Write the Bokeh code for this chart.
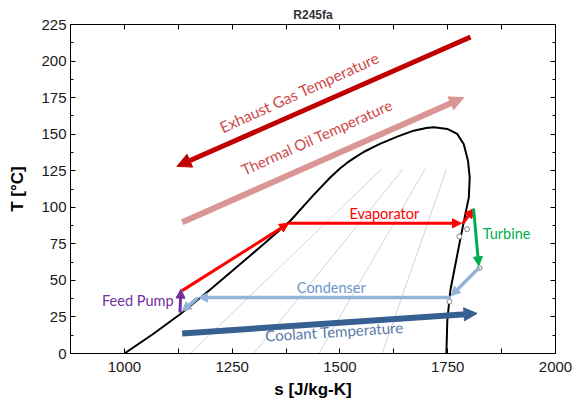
from bokeh.plotting import figure
from bokeh.models import (ColumnDataSource, Arrow, NormalHead, LinearAxis,
                          FixedTicker, Range1d)
from bokeh.core.properties import value
from bokeh.embed import file_html
from bokeh.resources import INLINE

# ---------------- data ----------------
chart_title = "R245fa"
x_label = "s [J/kg-K]"
y_label = "T [°C]"

x_ticks = [1000, 1250, 1500, 1750, 2000]
x_minor = [875, 1125, 1375, 1625, 1875]
y_ticks = [0, 25, 50, 75, 100, 125, 150, 175, 200, 225]
y_minor = [12.5, 37.5, 62.5, 87.5, 112.5, 137.5, 162.5, 187.5, 212.5]

# saturation dome (liquid side -> critical point -> vapour side)
dome_s = [1000, 1065, 1130, 1200, 1260, 1320, 1385, 1439, 1478, 1500, 1517, 1536, 1555,
          1575, 1594, 1633, 1671, 1700, 1718, 1749, 1772, 1787, 1797, 1801, 1799, 1791,
          1780, 1768, 1756, 1749, 1747]
dome_T = [0, 13, 27, 44, 59, 74, 90.8, 108.5, 120.5, 126.5, 130.5, 134.3, 137.8,
          140.8, 143.5, 148.3, 152.4, 154.2, 154.7, 153.6, 150.2, 143.3, 131.9, 120.5, 106.8, 95.4,
          79.4, 61.2, 42.9, 22.4, 0]

# constant-quality lines inside the dome
qual_s_bottom = [1153, 1300, 1451, 1598]
qual_T_bottom = [0, 0, 0, 0]
qual_s_top = [1596, 1646, 1697, 1747]
qual_T_top = [126, 126, 126, 126]

# ORC cycle segments
pump_s0, pump_T0, pump_s1, pump_T1 = [1129], [28], [1131], [44]
evap_s0 = [1134, 1381, 1785]
evap_T0 = [43, 89, 89]
evap_s1 = [1381, 1782, 1810]
evap_T1 = [89, 89, 99]
turb_s0, turb_T0, turb_s1, turb_T1 = [1810], [99], [1822], [60]
cond_s0 = [1824, 1757, 1170]
cond_T0 = [59, 38.3, 38]
cond_s1 = [1758, 1172, 1134]
cond_T1 = [39.5, 38.3, 29]

# state points
state_s = [1777, 1795, 1754, 1824]
state_T = [80, 85, 35.5, 58.5]

# heat source / sink streams
exhaust_s0, exhaust_T0, exhaust_s1, exhaust_T1 = [1803], [216.5], [1122], [128]
oil_s0, oil_T0, oil_s1, oil_T1 = [1134], [89.7], [1787], [175]
cool_s0, cool_T0, cool_s1, cool_T1 = [1134], [13.7], [1818], [27.4]

# annotation labels
label_text = ["Feed Pump", "Evaporator", "Turbine", "Condenser",
              "Coolant Temperature", "Exhaust Gas Temperature",
              "Thermal Oil Temperature"]
label_s = [1114, 1603, 1831, 1480, 1487, 1406, 1446]
label_T = [36.5, 95.8, 82.4, 45.2, 15.2, 178.7, 148.1]
label_angle = [0, 0, 0, 0, 0.063, 0.425, 0.42]
label_align = ["right", "center", "left", "center", "center", "center", "center"]
label_color = ["#7030A0", "#FF0000", "#00B050", "#6A96CF", "#5A78A8",
               "#D0494A", "#D0494A"]
label_size = ["14.5px", "14.5px", "14.5px", "14.5px", "15px", "15.5px", "15px"]

# ---------------- figure ----------------
p = figure(width=581, height=403, x_range=Range1d(875, 2000), y_range=Range1d(0, 225),
           output_backend="svg", toolbar_location=None, title=chart_title,
           min_border_left=70, min_border_right=26, min_border_top=24,
           min_border_bottom=50)
p.xgrid.visible = False
p.ygrid.visible = False
p.outline_line_color = "black"
p.outline_line_width = 1
p.background_fill_color = "white"
p.border_fill_color = "white"

p.title.align = "center"
p.title.text_font = "Liberation Sans"
p.title.text_font_size = "12px"
p.title.text_font_style = "bold"
p.title.text_color = "#333333"
p.title.standoff = 6

def style_axis(ax, ticks, minor, minor_len, show_labels):
    ax.ticker = FixedTicker(ticks=ticks, minor_ticks=minor)
    ax.axis_line_color = "black"
    ax.major_tick_line_color = "black"
    ax.minor_tick_line_color = "black"
    ax.major_tick_in = 5
    ax.major_tick_out = 0
    ax.minor_tick_in = minor_len
    ax.minor_tick_out = 0
    if show_labels:
        ax.major_label_text_font = "Liberation Sans"
        ax.major_label_text_font_size = "15px"
        ax.major_label_text_color = "#1a1a1a"
        ax.axis_label_text_font = "Liberation Sans"
        ax.axis_label_text_font_size = "17px"
        ax.axis_label_text_font_style = "bold"
        ax.axis_label_text_color = "black"
    else:
        ax.major_label_text_font_size = "0px"
        ax.major_label_text_color = None
        ax.major_label_standoff = 0

style_axis(p.xaxis[0], x_ticks, x_minor, 5, True)
style_axis(p.yaxis[0], y_ticks, y_minor, 3, True)
p.xaxis[0].axis_label = x_label
p.yaxis[0].axis_label = y_label
p.xaxis[0].major_label_standoff = 8
p.xaxis[0].axis_label_standoff = 5
p.yaxis[0].major_label_standoff = 4
p.yaxis[0].axis_label_standoff = 11

top_ax = LinearAxis()
style_axis(top_ax, x_ticks, x_minor, 5, False)
p.add_layout(top_ax, "above")
right_ax = LinearAxis()
style_axis(right_ax, y_ticks, y_minor, 3, False)
p.add_layout(right_ax, "right")

# quality lines
qsrc = ColumnDataSource(dict(x0=qual_s_bottom, y0=qual_T_bottom, x1=qual_s_top, y1=qual_T_top))
p.segment(x0="x0", y0="y0", x1="x1", y1="y1", source=qsrc, line_color="#C8C8C8", line_width=0.8)

# dome
p.line(dome_s, dome_T, line_color="black", line_width=2, line_join="round")

def arrows(s0, t0, s1, t1, color, width, head):
    src = ColumnDataSource(dict(x0=s0, y0=t0, x1=s1, y1=t1))
    p.add_layout(Arrow(x_start="x0", y_start="y0", x_end="x1", y_end="y1", source=src,
                       line_color=color, line_width=width,
                       end=NormalHead(size=head, fill_color=color, line_color=color, line_width=1)))

# heat source / sink streams
arrows(exhaust_s0, exhaust_T0, exhaust_s1, exhaust_T1, "#C00000", 5, 14)
arrows(oil_s0, oil_T0, oil_s1, oil_T1, "#D99694", 6, 14)
arrows(cool_s0, cool_T0, cool_s1, cool_T1, "#376092", 6, 13)

# cycle
arrows(evap_s0, evap_T0, evap_s1, evap_T1, "#FF0000", 3, 9)
arrows(turb_s0, turb_T0, turb_s1, turb_T1, "#00B050", 3, 9)
arrows(cond_s0, cond_T0, cond_s1, cond_T1, "#95B3D7", 3.5, 9)
arrows(pump_s0, pump_T0, pump_s1, pump_T1, "#7030A0", 3, 9)

# state points
p.scatter(state_s, state_T, size=5, fill_color="white", line_color="#888888", line_width=1)

# labels
lsrc = ColumnDataSource(dict(x=label_s, y=label_T, text=label_text, angle=label_angle,
                             align=label_align, color=label_color, size=label_size))
p.text(x="x", y="y", text="text", angle="angle", text_align="align", text_color="color",
       text_baseline="middle", text_font=value("Lato"), text_font_size="size",
       source=lsrc)

open("out.html", "w").write(file_html(p, INLINE))
